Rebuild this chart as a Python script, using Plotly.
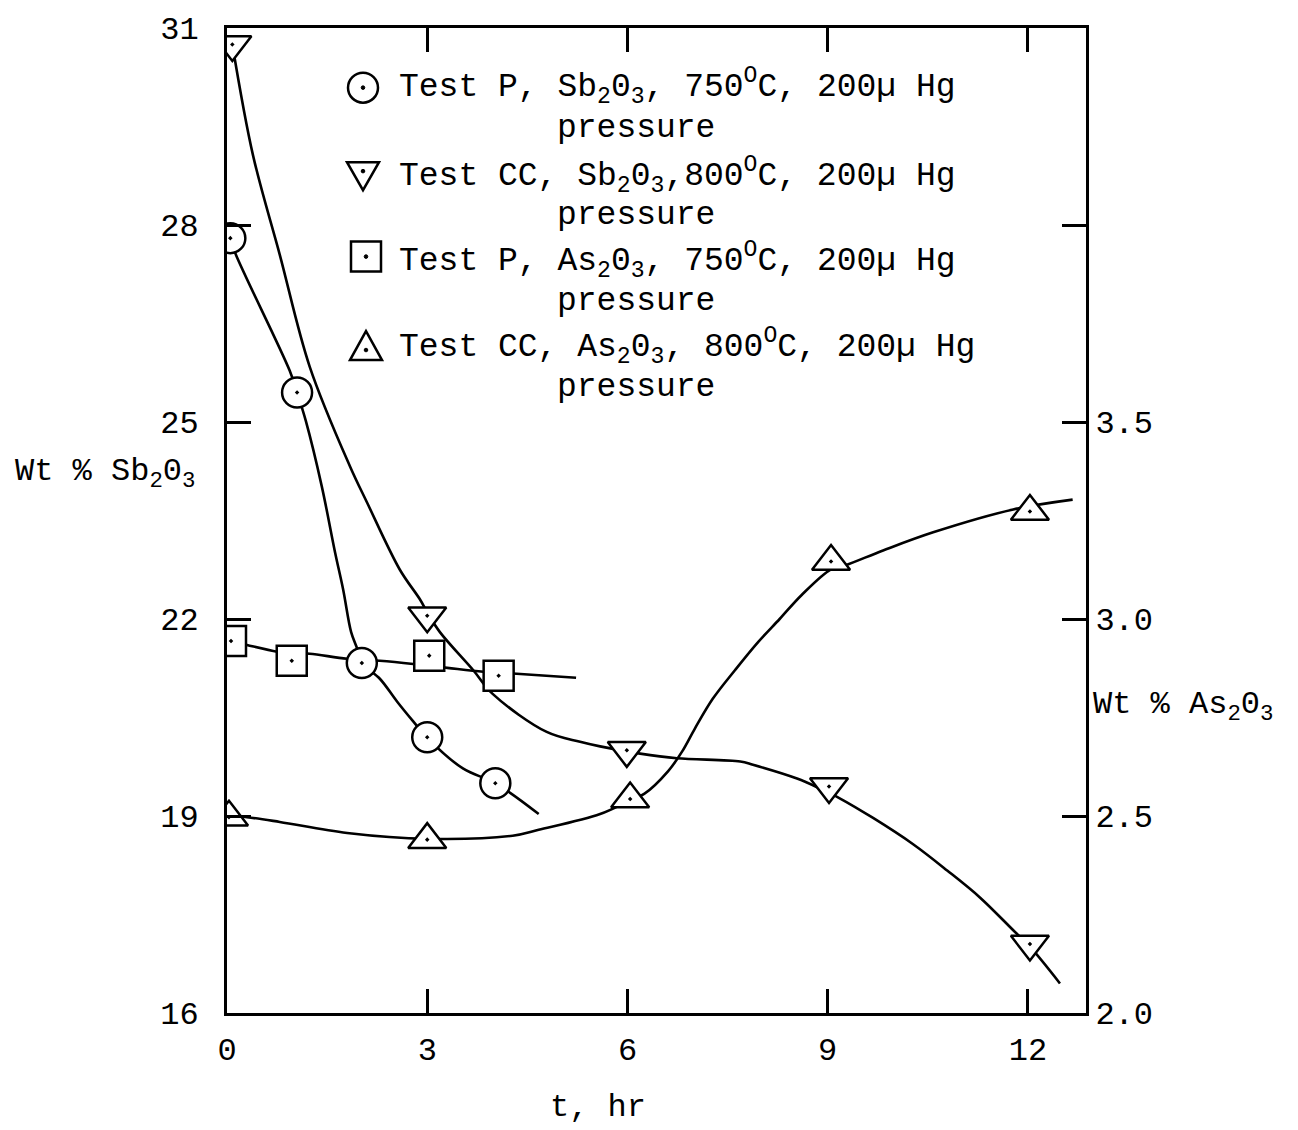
import plotly.graph_objects as go

# ---------------- measured points ----------------
# Test P, Sb2O3, 750 C  (left axis, wt % Sb2O3)
p_sb_t = [0.05, 1.05, 2.02, 3.0, 4.02]
p_sb_wt = [27.8, 25.45, 21.33, 20.2, 19.5]

# Test CC, Sb2O3, 800 C  (left axis)
cc_sb_t = [0.08, 3.0, 5.99, 9.02, 12.03]
cc_sb_wt = [30.75, 22.05, 20.0, 19.45, 17.05]

# Test P, As2O3, 750 C  (right axis, wt % As2O3)
p_as_t = [0.06, 0.97, 3.03, 4.07]
p_as_wt = [2.944, 2.894, 2.907, 2.856]

# Test CC, As2O3, 800 C  (right axis)
cc_as_t = [0.03, 3.0, 6.04, 9.05, 12.03]
cc_as_wt = [2.497, 2.44, 2.543, 3.146, 3.273]

# ---------------- faired curves through each data set ----------------
p_sb_curve_t = [0.05, 0.12, 0.94, 1.05, 1.18, 1.42, 1.62, 1.74, 1.86, 1.95,
                2.02, 2.29, 2.55, 2.79, 3.0, 3.54, 4.02, 4.67]
p_sb_curve_wt = [27.8, 27.58, 25.78, 25.45, 25.02, 24.02, 23.01, 22.45, 21.8, 21.55,
                 21.33, 21.09, 20.74, 20.44, 20.19, 19.72, 19.5, 19.03]

cc_sb_curve_t = [0.08, 0.39, 0.79, 1.24, 1.84, 2.1, 2.59, 2.89, 3.0, 3.19, 3.69,
                 3.98, 4.79, 5.29, 5.59, 6.19, 6.74, 7.69, 7.88, 8.54, 8.88,
                 9.18, 9.68, 10.28, 10.79, 11.28, 11.78, 12.03, 12.48]
cc_sb_curve_wt = [30.75, 29.06, 27.55, 25.84, 24.33, 23.77, 22.75, 22.3, 22.1, 21.8, 21.22,
                  20.86, 20.28, 20.13, 20.06, 19.95, 19.88, 19.83, 19.78, 19.57, 19.42,
                  19.27, 18.97, 18.57, 18.17, 17.76, 17.26, 17.01, 16.45]

p_as_curve_t = [0.06, 0.3, 0.75, 0.97, 1.24, 1.8, 2.29, 2.79, 3.3, 3.84, 4.34, 5.23]
p_as_curve_wt = [2.944, 2.934, 2.917, 2.914, 2.912, 2.899, 2.894, 2.886, 2.876,
                 2.866, 2.861, 2.851]

cc_as_curve_t = [0.05, 0.3, 0.79, 1.8, 3.0, 4.28, 4.67, 5.59, 6.04, 6.25, 6.61, 6.82,
                 7.01, 7.28, 7.61, 7.96, 8.28, 8.61, 9.05, 9.26, 9.83, 10.58, 11.78, 12.67]
cc_as_curve_wt = [2.50, 2.497, 2.485, 2.457, 2.442, 2.45, 2.465, 2.505, 2.54, 2.556, 2.614,
                  2.664, 2.722, 2.798, 2.87, 2.942, 3.0, 3.061, 3.126, 3.136, 3.174,
                  3.22, 3.278, 3.303]

# ---------------- axis ticks ----------------
x_ticks = [0, 3, 6, 9, 12]
sb_ticks = [16, 19, 22, 25, 28, 31]
as_ticks = [2.0, 2.5, 3.0, 3.5, 4.0]
as_tick_text = ["2.0", "2.5", "3.0", "3.5", ""]

legend_text = [
    "Test P, Sb<sub>2</sub>0<sub>3</sub>, 750<sup>O</sup>C, 200\u00b5 Hg",
    "Test CC, Sb<sub>2</sub>0<sub>3</sub>,800<sup>O</sup>C, 200\u00b5 Hg",
    "Test P, As<sub>2</sub>0<sub>3</sub>, 750<sup>O</sup>C, 200\u00b5 Hg",
    "Test CC, As<sub>2</sub>0<sub>3</sub>, 800<sup>O</sup>C, 200\u00b5 Hg",
]

FONT = "Liberation Mono"
INK = "black"
W, H = 1298, 1130
ML, MR, MT, MB = 227, 212, 22, 117
PW, PH = W - ML - MR, H - MT - MB


def px(x):
    return (x - ML) / PW


def py(y):
    return (H - MB - y) / PH


fig = go.Figure()

curve_line = dict(color=INK, width=2.6, shape="spline", smoothing=1.0)

# curves first so markers sit on top of every line
fig.add_trace(go.Scatter(x=p_sb_curve_t, y=p_sb_curve_wt, mode="lines",
                         line=curve_line, yaxis="y", hoverinfo="skip"))
fig.add_trace(go.Scatter(x=cc_sb_curve_t, y=cc_sb_curve_wt, mode="lines",
                         line=curve_line, yaxis="y", hoverinfo="skip"))
fig.add_trace(go.Scatter(x=p_as_curve_t, y=p_as_curve_wt, mode="lines",
                         line=curve_line, yaxis="y2", hoverinfo="skip"))
fig.add_trace(go.Scatter(x=cc_as_curve_t, y=cc_as_curve_wt, mode="lines",
                         line=curve_line, yaxis="y2", hoverinfo="skip"))


def mk(symbol, size):
    return dict(symbol=symbol, size=size, color="white",
                line=dict(color=INK, width=2.5))


fig.add_trace(go.Scatter(x=p_as_t, y=p_as_wt, mode="markers", yaxis="y2",
                         marker=mk("square-dot", 30)))
fig.add_trace(go.Scatter(x=cc_as_t, y=cc_as_wt, mode="markers", yaxis="y2",
                         marker=mk("triangle-up-dot", 33)))
fig.add_trace(go.Scatter(x=p_sb_t, y=p_sb_wt, mode="markers", yaxis="y3",
                         marker=mk("circle-dot", 30)))
fig.add_trace(go.Scatter(x=cc_sb_t, y=cc_sb_wt, mode="markers", yaxis="y3",
                         marker=mk("triangle-down-dot", 33)))

tickfont = dict(family=FONT, size=32, color=INK)

fig.update_layout(
    width=W, height=H,
    margin=dict(l=ML, r=MR, t=MT, b=MB, pad=0),
    paper_bgcolor="white", plot_bgcolor="white",
    showlegend=False,
    font=dict(family=FONT, color=INK),
    xaxis=dict(range=[0, 12.87], tickvals=x_ticks, ticks="inside", ticklen=24,
               tickwidth=2.5, tickcolor=INK, showline=True, linewidth=3,
               linecolor=INK, mirror="ticks", showgrid=False, zeroline=False,
               tickfont=tickfont, ticklabelstandoff=6),
    yaxis=dict(range=[16, 31], tickvals=sb_ticks, ticks="inside", ticklen=24,
               tickwidth=2.5, tickcolor=INK, showline=True, linewidth=3,
               linecolor=INK, showgrid=False, zeroline=False,
               tickfont=tickfont, ticklabelstandoff=19),
    yaxis2=dict(range=[2.0, 4.5], tickvals=as_ticks, ticktext=as_tick_text,
                overlaying="y", side="right", ticks="inside", ticklen=24,
                tickwidth=2.5, tickcolor=INK, showline=True, linewidth=3,
                linecolor=INK, showgrid=False, zeroline=False,
                tickfont=tickfont, ticklabelstandoff=0),
    yaxis3=dict(range=[16, 31], overlaying="y", visible=False),
)

# axis titles
ann_font = dict(family=FONT, size=32, color=INK)
fig.add_annotation(x=px(13), y=py(470), xref="paper", yref="paper",
                   text="Wt % Sb<sub>2</sub>0<sub>3</sub>", showarrow=False,
                   xanchor="left", yanchor="middle", font=ann_font)
fig.add_annotation(x=px(1091), y=py(705), xref="paper", yref="paper",
                   text="Wt % As<sub>2</sub>0<sub>3</sub>", showarrow=False,
                   xanchor="left", yanchor="middle", font=ann_font)
fig.add_annotation(x=px(598), y=py(1108), xref="paper", yref="paper",
                   text="t, hr", showarrow=False,
                   xanchor="center", yanchor="middle", font=ann_font)

# key, drawn inside the plot frame
leg_font = dict(family=FONT, size=33, color=INK)
row_y = [81, 170, 256, 342]
press_y = [123, 211, 297, 384]
for ty, py_, txt in zip(row_y, press_y, legend_text):
    fig.add_annotation(x=px(397), y=py(ty), xref="paper", yref="paper",
                       text=txt, showarrow=False, xanchor="left",
                       yanchor="middle", font=leg_font)
    fig.add_annotation(x=px(555), y=py(py_), xref="paper", yref="paper",
                       text="pressure", showarrow=False, xanchor="left",
                       yanchor="middle", font=leg_font)

sym_line = dict(color=INK, width=2.5)


def key_shape(cx, cy, **kw):
    base = dict(xref="paper", yref="paper", xsizemode="pixel", ysizemode="pixel",
                xanchor=px(cx), yanchor=py(cy), line=sym_line, fillcolor="white")
    base.update(kw)
    fig.add_shape(**base)


def key_dot(cx, cy):
    key_shape(cx, cy, type="circle", x0=-1.8, x1=1.8, y0=-1.8, y1=1.8,
              fillcolor=INK, line=dict(color=INK, width=1))


key_shape(363, 82, type="circle", x0=-15, x1=15, y0=-15, y1=15)
key_dot(363, 82)
key_shape(363, 166, type="path", path="M -16,9 L 16,9 L 0,-19 Z")
key_dot(363, 166)
key_shape(366, 252, type="rect", x0=-15, x1=15, y0=-15, y1=15)
key_dot(366, 252)
key_shape(366, 346, type="path", path="M -16,-10 L 16,-10 L 0,19 Z")
key_dot(366, 346)

fig.write_html("out.html")
